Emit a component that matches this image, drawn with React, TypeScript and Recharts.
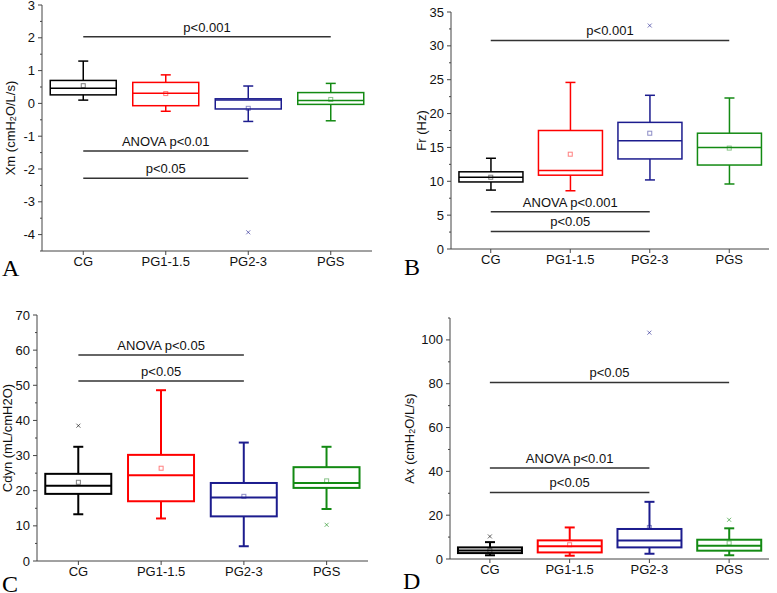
import React from "react";
import { ComposedChart, Bar, Line, XAxis, YAxis, ReferenceLine } from "recharts";

const groups = ["CG", "PG1-1.5", "PG2-3", "PGS"];
const groupColors = ["#000000", "#ff0000", "#1c1c8e", "#138a13"];

// ================= A: Xm =================
const xmLow = [0.1, -0.24, -0.55, -0.53];
const xmQ1 = [0.26, -0.07, -0.17, -0.03];
const xmMedian = [0.46, 0.31, 0.1, 0.09];
const xmQ3 = [0.7, 0.64, 0.14, 0.33];
const xmHigh = [1.29, 0.87, 0.53, 0.61];
const xmMean = [0.54, 0.3, -0.15, 0.12];
const xmOutlier = [null, null, -3.93, null];
const xmTicks = [-4, -3, -2, -1, 0, 1, 2, 3];
const xmSig = [
  { label: "p<0.001", from: "CG", to: "PGS", y: 2.03 },
  { label: "ANOVA p<0.01", from: "CG", to: "PG2-3", y: -1.45 },
  { label: "p<0.05", from: "CG", to: "PG2-3", y: -2.28 },
];

// ================= B: Fr =================
const frLow = [8.7, 8.6, 10.2, 9.6];
const frQ1 = [9.9, 10.9, 13.3, 12.4];
const frMedian = [10.6, 11.6, 16.0, 15.0];
const frQ3 = [11.4, 17.5, 18.7, 17.1];
const frHigh = [13.4, 24.6, 22.7, 22.3];
const frMean = [10.6, 14.0, 17.1, 14.9];
const frOutlier = [null, null, 33.0, null];
const frTicks = [0, 5, 10, 15, 20, 25, 30, 35];
const frSig = [
  { label: "p<0.001", from: "CG", to: "PGS", y: 30.8 },
  { label: "ANOVA p<0.001", from: "CG", to: "PG2-3", y: 5.5 },
  { label: "p<0.05", from: "CG", to: "PG2-3", y: 2.6 },
];

// ================= C: Cdyn =================
const cdLow = [13.3, 12.1, 4.2, 14.8];
const cdQ1 = [19.1, 17.0, 12.7, 20.8];
const cdMedian = [21.4, 24.4, 18.1, 22.2];
const cdQ3 = [24.8, 30.2, 22.2, 26.7];
const cdHigh = [32.5, 48.6, 33.7, 32.5];
const cdMean = [22.4, 26.4, 18.4, 22.8];
const cdOutlier = [38.5, null, null, 10.3];
const cdTicks = [0, 10, 20, 30, 40, 50, 60, 70];
const cdSig = [
  { label: "ANOVA p<0.05", from: "CG", to: "PG2-3", y: 58.6 },
  { label: "p<0.05", from: "CG", to: "PG2-3", y: 51.2 },
];

// ================= D: Ax =================
const axLow = [1.7, 1.5, 2.4, 1.7];
const axQ1 = [2.7, 3.0, 5.3, 3.8];
const axMedian = [3.9, 5.8, 8.5, 6.1];
const axQ3 = [5.3, 8.5, 13.7, 8.8];
const axHigh = [7.7, 14.4, 26.1, 14.0];
const axMean = [3.8, 6.5, 14.4, 7.3];
const axOutlier = [10.3, null, 103.3, 17.9];
const axTicks = [0, 20, 40, 60, 80, 100];
const axSig = [
  { label: "p<0.05", from: "CG", to: "PGS", y: 80.6 },
  { label: "ANOVA p<0.01", from: "CG", to: "PG2-3", y: 41.5 },
  { label: "p<0.05", from: "CG", to: "PG2-3", y: 30.4 },
];

const axisColor = "#444";
const font = "'Liberation Sans', Arial, sans-serif";

type Sig = { label: string; from: string; to: string; y: number };

function buildRows(
  low: number[],
  q1: number[],
  median: number[],
  q3: number[],
  high: number[],
  mean: number[],
  outlier: (number | null)[]
) {
  return groups.map((name, i) => ({
    name,
    range: [low[i], high[i]],
    q1: q1[i],
    median: median[i],
    q3: q3[i],
    mean: mean[i],
    outlier: outlier[i],
  }));
}

function withMinor(majors: number[], domain: [number, number]) {
  const step = majors[1] - majors[0];
  const out: number[] = [...majors];
  for (let v = majors[0] - step / 2; v <= domain[1] + 1e-9; v += step) {
    if (v >= domain[0] - 1e-9) out.push(Math.round(v * 1000) / 1000);
  }
  return out.sort((a, b) => a - b);
}

function colorOf(name: string) {
  return groupColors[groups.indexOf(name)];
}

function makeBoxShape(lineW: number) {
  return (props: any) => {
    const { x, y, width, height, payload } = props;
    const top = Math.min(y, y + height);
    const bottom = Math.max(y, y + height);
    const [lo, hi] = payload.range;
    const toY = (v: number) => bottom - ((v - lo) / (hi - lo)) * (bottom - top);
    const c = colorOf(payload.name);
    const cx = x + width / 2;
    const cap = 5;
    const yQ1 = toY(payload.q1);
    const yQ3 = toY(payload.q3);
    const yMed = toY(payload.median);
    return (
      <g stroke={c} strokeWidth={lineW} fill="none">
        <line x1={cx} x2={cx} y1={top} y2={yQ3} />
        <line x1={cx} x2={cx} y1={yQ1} y2={bottom} />
        <line x1={cx - cap} x2={cx + cap} y1={top} y2={top} />
        <line x1={cx - cap} x2={cx + cap} y1={bottom} y2={bottom} />
        <rect x={x} y={yQ3} width={width} height={yQ1 - yQ3} />
        <line x1={x} x2={x + width} y1={yMed} y2={yMed} />
      </g>
    );
  };
}

function MeanDot(props: any) {
  const { cx, cy, payload, index } = props;
  if (cy == null || isNaN(cy)) return <g key={"m" + index} />;
  return (
    <rect
      key={"m" + index}
      x={cx - 2}
      y={cy - 2}
      width={4}
      height={4}
      fill="none"
      stroke={colorOf(payload.name)}
      strokeOpacity={0.5}
      strokeWidth={1}
    />
  );
}

function OutlierDot(props: any) {
  const { cx, cy, payload, index } = props;
  if (cy == null || isNaN(cy)) return <g key={"o" + index} />;
  const c = colorOf(payload.name);
  return (
    <g key={"o" + index} stroke={c} strokeOpacity={0.6} strokeWidth={1}>
      <line x1={cx - 2} x2={cx + 2} y1={cy - 2} y2={cy + 2} />
      <line x1={cx - 2} x2={cx + 2} y1={cy + 2} y2={cy - 2} />
    </g>
  );
}

function makeYTick(majors: number[]) {
  return (props: any) => {
    const { x, y, payload } = props;
    const axisX = x + 7; // tickSize 4 + tickMargin 3
    const isMajor = majors.some((m) => Math.abs(m - payload.value) < 1e-6);
    return (
      <g>
        <line x1={axisX - (isMajor ? 4 : 2)} x2={axisX} y1={y} y2={y} stroke={axisColor} />
        {isMajor && (
          <text x={x} y={y} dy={4.5} textAnchor="end" fontSize={13} fill="#111" fontFamily={font}>
            {payload.value}
          </text>
        )}
      </g>
    );
  };
}

function makeTitle(parts: string[], offset: number) {
  return (props: any) => {
    const vb = props.viewBox;
    const cx = vb.x + vb.width - offset;
    const cy = vb.y + vb.height / 2;
    return (
      <text
        x={cx}
        y={cy}
        transform={`rotate(-90, ${cx}, ${cy})`}
        textAnchor="middle"
        dominantBaseline="central"
        fontSize={13}
        fill="#111"
        fontFamily={font}
      >
        {parts[0]}
        {parts[1] && (
          <tspan dy={3} fontSize={9}>
            {parts[1]}
          </tspan>
        )}
        {parts[1] && <tspan dy={-3}>{parts[2]}</tspan>}
      </text>
    );
  };
}

type PanelProps = {
  left: number;
  top: number;
  width: number;
  height: number;
  margin: { top: number; right: number; bottom: number; left: number };
  yAxisWidth: number;
  titleOffset: number;
  title: string[];
  rows: any[];
  sigs: Sig[];
  domain: [number, number];
  majors: number[];
  lineW: number;
};

function Panel(p: PanelProps) {
  const ticks = withMinor(p.majors, p.domain);
  return (
    <div style={{ position: "absolute", left: p.left, top: p.top }}>
      <ComposedChart width={p.width} height={p.height} data={p.rows} margin={p.margin}>
        <XAxis
          dataKey="name"
          interval={0}
          tickSize={4}
          height={30}
          stroke={axisColor}
          tick={{ fontSize: 13, fill: "#111", fontFamily: font }}
        />
        <XAxis
          xAxisId="top"
          dataKey="name"
          orientation="top"
          height={0}
          tick={false}
          tickLine={false}
          stroke={axisColor}
        />
        <YAxis
          type="number"
          domain={p.domain}
          ticks={ticks}
          interval={0}
          width={p.yAxisWidth}
          tickSize={4}
          tickMargin={3}
          tickLine={false}
          stroke={axisColor}
          tick={makeYTick(p.majors)}
          label={{ content: makeTitle(p.title, p.titleOffset) }}
        />
        <YAxis
          yAxisId="right"
          orientation="right"
          domain={p.domain}
          width={0}
          tick={false}
          tickLine={false}
          stroke={axisColor}
        />
        <Bar dataKey="range" shape={makeBoxShape(p.lineW)} isAnimationActive={false} />
        <Line
          dataKey="mean"
          stroke="none"
          dot={MeanDot}
          activeDot={false}
          isAnimationActive={false}
        />
        <Line
          dataKey="outlier"
          stroke="none"
          dot={OutlierDot}
          activeDot={false}
          isAnimationActive={false}
        />
        {p.sigs.map((s, i) => (
          <ReferenceLine
            key={i}
            segment={[
              { x: s.from, y: s.y },
              { x: s.to, y: s.y },
            ]}
            stroke="#333"
            strokeWidth={1.5}
            label={{ value: s.label, position: "top", fontSize: 13, fill: "#111", fontFamily: font }}
          />
        ))}
      </ComposedChart>
    </div>
  );
}

const letterStyle: React.CSSProperties = {
  position: "absolute",
  fontFamily: "'Liberation Serif', 'Times New Roman', serif",
  fontSize: 24,
  lineHeight: "24px",
  color: "#000",
};

export default function App() {
  return (
    <div
      style={{
        position: "absolute",
        left: 0,
        top: 0,
        width: 777,
        height: 593,
        background: "#fff",
        fontFamily: font,
      }}
    >
      <Panel
        left={0}
        top={0}
        width={388}
        height={290}
        margin={{ top: 5, right: 16, bottom: 9, left: 0 }}
        yAxisWidth={42}
        titleOffset={32}
        title={["Xm (cmH", "2", "O/L/s)"]}
        rows={buildRows(xmLow, xmQ1, xmMedian, xmQ3, xmHigh, xmMean, xmOutlier)}
        sigs={xmSig}
        domain={[-4.5, 3]}
        majors={xmTicks}
        lineW={1.5}
      />
      <Panel
        left={388}
        top={0}
        width={389}
        height={290}
        margin={{ top: 12, right: 8, bottom: 11, left: 0 }}
        yAxisWidth={63}
        titleOffset={30}
        title={["Fr (Hz)"]}
        rows={buildRows(frLow, frQ1, frMedian, frQ3, frHigh, frMean, frOutlier)}
        sigs={frSig}
        domain={[0, 35]}
        majors={frTicks}
        lineW={1.5}
      />
      <Panel
        left={0}
        top={290}
        width={388}
        height={303}
        margin={{ top: 25, right: 20, bottom: 2, left: 0 }}
        yAxisWidth={37}
        titleOffset={30}
        title={["Cdyn (mL/cmH2O)"]}
        rows={buildRows(cdLow, cdQ1, cdMedian, cdQ3, cdHigh, cdMean, cdOutlier)}
        sigs={cdSig}
        domain={[0, 70]}
        majors={cdTicks}
        lineW={2}
      />
      <Panel
        left={388}
        top={290}
        width={389}
        height={303}
        margin={{ top: 28, right: 8, bottom: 4, left: 0 }}
        yAxisWidth={62}
        titleOffset={41}
        title={["Ax (cmH", "2", "O/L/s)"]}
        rows={buildRows(axLow, axQ1, axMedian, axQ3, axHigh, axMean, axOutlier)}
        sigs={axSig}
        domain={[0, 110]}
        majors={axTicks}
        lineW={2}
      />
      <div style={{ ...letterStyle, left: 2, top: 256 }}>A</div>
      <div style={{ ...letterStyle, left: 404, top: 255 }}>B</div>
      <div style={{ ...letterStyle, left: 2, top: 572 }}>C</div>
      <div style={{ ...letterStyle, left: 403, top: 569 }}>D</div>
    </div>
  );
}
